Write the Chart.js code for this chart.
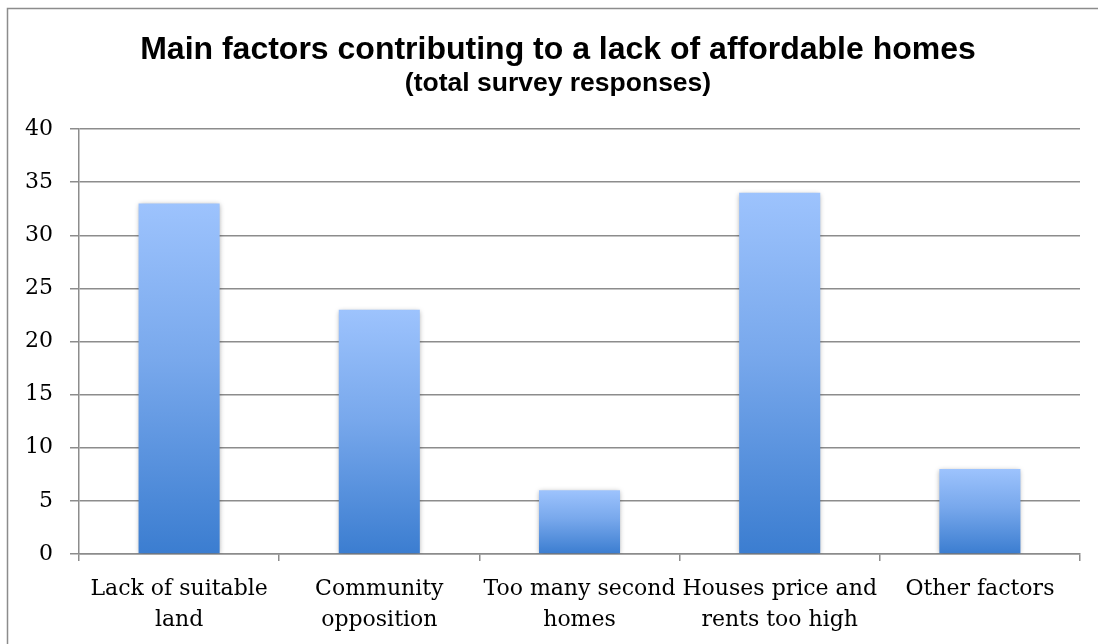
<!DOCTYPE html>
<html>
<head>
<meta charset="utf-8">
<script src="https://cdn.jsdelivr.net/npm/chart.js@4"></script>
<style>
html,body{margin:0;padding:0;background:#fff;}
#wrap{width:1098px;height:644px;position:relative;}
</style>
</head>
<body>
<div id="wrap"><canvas id="c" width="1098" height="644"></canvas></div>
<script>
const categories = [
  ["Lack of suitable", "land"],
  ["Community", "opposition"],
  ["Too many second", "homes"],
  ["Houses price and", "rents too high"],
  ["Other factors"]
];
const responses = [33, 23, 6, 34, 8];
const yTicks = [0, 5, 10, 15, 20, 25, 30, 35, 40];
const titleText = "Main factors contributing to a lack of affordable homes";
const subtitleText = "(total survey responses)";

const serif = "'DejaVu Serif', 'Liberation Serif', serif";
const sans = "'Liberation Sans', Arial, sans-serif";

const borderPlugin = {
  id: 'outerBorder',
  beforeDraw(chart) {
    const ctx = chart.ctx;
    ctx.save();
    ctx.fillStyle = '#fff';
    ctx.fillRect(0, 0, chart.width, chart.height);
    ctx.strokeStyle = '#8c8c8c';
    ctx.lineWidth = 1.5;
    ctx.strokeRect(7.5, 8.5, 1200, 700);
    ctx.restore();
  },
  afterDraw(chart) {
    const ctx = chart.ctx;
    ctx.save();
    ctx.fillStyle = '#000';
    ctx.textAlign = 'center';
    ctx.textBaseline = 'middle';
    ctx.font = "bold 32px " + sans;
    ctx.fillText(titleText, 558, 50);
    ctx.font = "bold 26.5px " + sans;
    ctx.fillText(subtitleText, 558, 83.5);
    ctx.restore();
  }
};
const shadowPlugin = {
  id: 'barShadow',
  beforeDatasetsDraw(chart) {
    const ctx = chart.ctx;
    ctx.save();
    ctx.shadowColor = 'rgba(0,0,0,0.35)';
    ctx.shadowBlur = 5;
    ctx.shadowOffsetX = 0;
    ctx.shadowOffsetY = 1;
  },
  afterDatasetsDraw(chart) {
    chart.ctx.restore();
  }
};

function barGradient(context) {
  const chart = context.chart;
  const ys = chart.scales && chart.scales.y;
  if (!ys || !chart.chartArea) return '#6a9ee6';
  const v = context.raw;
  const top = ys.getPixelForValue(v);
  const bot = ys.getPixelForValue(0);
  if (!isFinite(top) || !isFinite(bot) || top === bot) return '#6a9ee6';
  const g = chart.ctx.createLinearGradient(0, top, 0, bot);
  g.addColorStop(0, '#9dc3fd');
  g.addColorStop(0.45, '#78a8ec');
  g.addColorStop(1, '#3b7dd0');
  return g;
}

new Chart(document.getElementById('c'), {
  type: 'bar',
  data: {
    labels: categories,
    datasets: [{
      data: responses,
      backgroundColor: barGradient,
      borderWidth: 0,
      categoryPercentage: 1,
      barPercentage: 0.405
    }]
  },
  plugins: [borderPlugin, shadowPlugin],
  options: {
    responsive: false,
    animation: false,
    devicePixelRatio: 1,
    layout: { padding: { left: 0, right: 18, top: 129, bottom: 0 } },
    plugins: {
      legend: { display: false },
      tooltip: { enabled: false },
      title: { display: false },
      subtitle: { display: false }
    },
    scales: {
      x: {
        afterFit(scale) { scale.height = 90; },
        grid: {
          offset: true,
          drawOnChartArea: false,
          drawTicks: true,
          tickLength: 7,
          color: '#8c8c8c',
          lineWidth: 1.5
        },
        border: { display: true, color: '#8c8c8c', width: 1.5 },
        ticks: {
          color: '#000',
          font: { family: serif, size: 22, lineHeight: 1.41 },
          padding: 13,
          maxRotation: 0,
          autoSkip: false
        }
      },
      y: {
        min: 0,
        max: 40,
        afterBuildTicks(scale) { scale.ticks = yTicks.map(v => ({ value: v })); },
        afterFit(scale) { scale.width = 79; },
        grid: {
          color: '#8c8c8c',
          lineWidth: 1.5,
          tickLength: 9
        },
        border: { display: true, color: '#8c8c8c', width: 1.5 },
        ticks: {
          color: '#000',
          font: { family: serif, size: 22 },
          padding: 17
        }
      }
    }
  }
});
</script>
</body>
</html>
